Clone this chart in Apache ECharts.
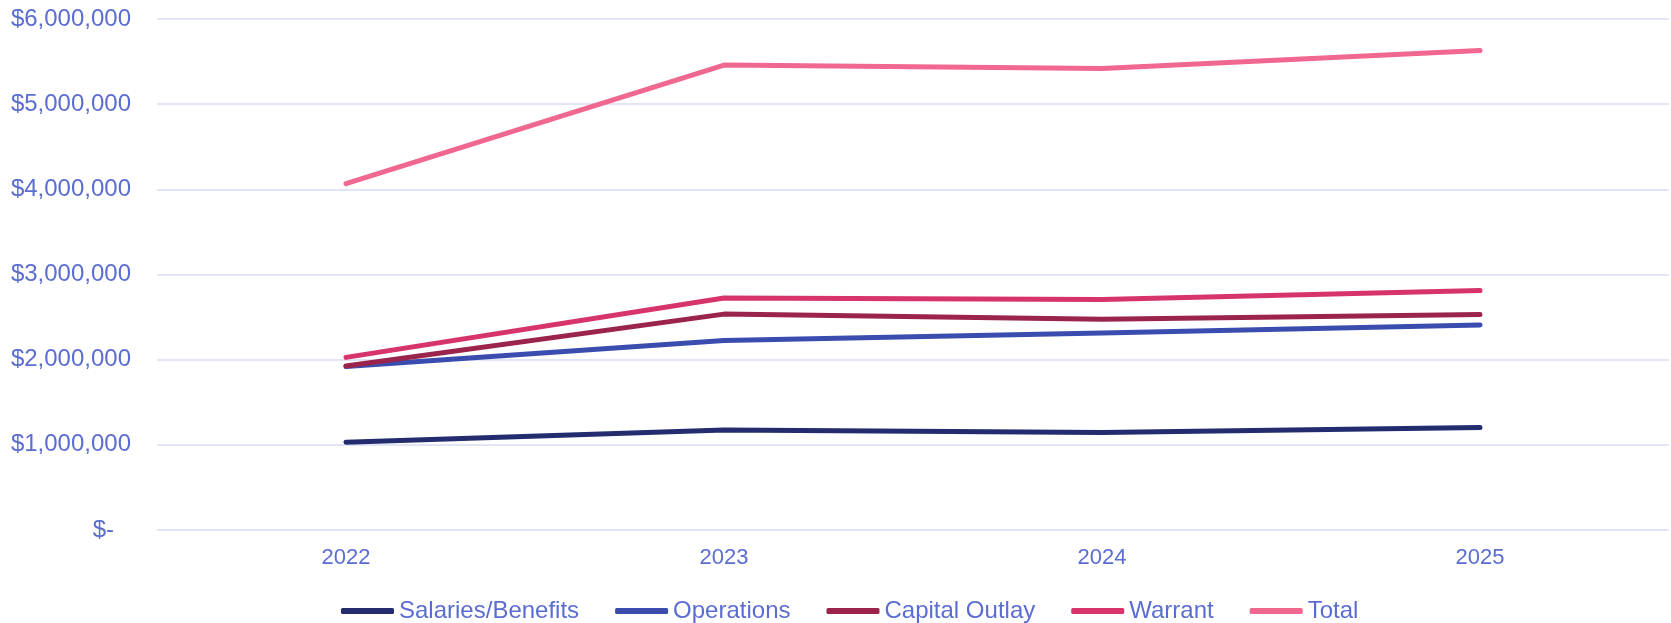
<!DOCTYPE html>
<html>
<head>
<meta charset="utf-8">
<script src="https://cdn.jsdelivr.net/npm/echarts@6/dist/echarts.min.js"></script>
<style>
  html, body { margin: 0; padding: 0; background: #fff; }
  #chart { width: 1671px; height: 623px; }
</style>
</head>
<body>
<div id="chart"></div>
<script>
const years = ["2022", "2023", "2024", "2025"];
const salaries = [1030000, 1173000, 1145000, 1204000];
const operations = [1920000, 2224000, 2314000, 2408000];
const capitalOutlay = [1925000, 2535000, 2475000, 2530000];
const warrant = [2027000, 2725000, 2706000, 2812000];
const total = [4067000, 5459000, 5420000, 5630000];

const textColor = "#5b6dd1";
const font = "Liberation Sans, Arial, sans-serif";

const chart = echarts.init(document.getElementById("chart"));

function line(name, data, color) {
  return {
    name: name,
    type: "line",
    data: data,
    color: color,
    symbol: "none",
    lineStyle: { width: 5, color: color, cap: "round", join: "round" },
  };
}

chart.setOption({
  animation: false,
  grid: {
    left: 157,
    right: 2,
    top: 19,
    bottom: 93,
  },
  xAxis: {
    type: "category",
    data: years,
    boundaryGap: true,
    axisLine: { show: false },
    axisTick: { show: false },
    axisLabel: {
      color: textColor,
      fontFamily: font,
      fontSize: 22,
      margin: 17,
    },
  },
  yAxis: {
    type: "value",
    min: 0,
    max: 6000000,
    interval: 1000000,
    axisLine: { show: false },
    axisTick: { show: false },
    splitLine: { lineStyle: { color: "#d9dcf3", width: 1.5 } },
    axisLabel: {
      color: textColor,
      fontFamily: font,
      fontSize: 24,
      margin: 26,
      formatter: function (v) {
        if (v === 0) return "{z|$-}";
        return "$" + v.toLocaleString("en-US");
      },
      rich: {
        z: { color: textColor, fontFamily: font, fontSize: 24, padding: [0, 17, 0, 0] },
      },
    },
  },
  legend: {
    left: 336,
    top: 594,
    icon: "roundRect",
    itemWidth: 53,
    itemHeight: 6,
    itemGap: 36,
    textStyle: {
      color: textColor,
      fontFamily: font,
      fontSize: 24,
    },
    data: ["Salaries/Benefits", "Operations", "Capital Outlay", "Warrant", "Total"],
  },
  series: [
    line("Salaries/Benefits", salaries, "#232c6e"),
    line("Operations", operations, "#3a4dae"),
    line("Capital Outlay", capitalOutlay, "#9b244d"),
    line("Warrant", warrant, "#d6346a"),
    line("Total", total, "#f06890"),
  ],
});
</script>
</body>
</html>
